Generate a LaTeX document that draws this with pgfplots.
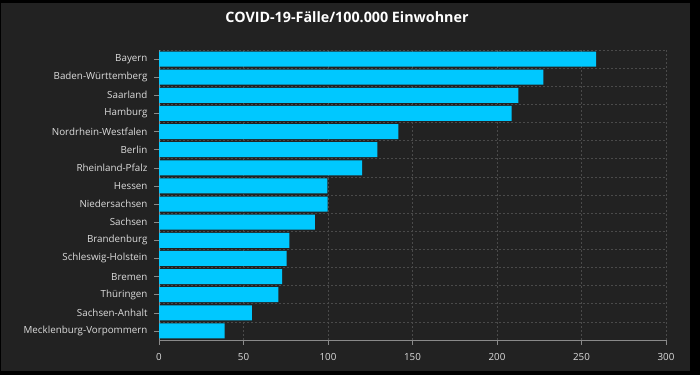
\documentclass[border=0pt]{standalone}
\usepackage{fontspec}
\setmainfont{Open Sans}
\usepackage{pgfplots}
\pgfplotsset{compat=1.18}
\definecolor{bg}{HTML}{222222}
\definecolor{barc}{HTML}{00C8FF}
\definecolor{gridc}{HTML}{4A4A4A}
\definecolor{axc}{HTML}{8A8A8A}
\definecolor{txt}{HTML}{DDDDDD}
\begin{document}
\begin{tikzpicture}[x=1pt,y=1pt]
\fill[black] (0,0) rectangle (700,375);
\fill[bg] (1,4) rectangle (690,372);
\node[text=white,font=\fontsize{14.3}{16}\selectfont\bfseries] at (347,358) {COVID-19-Fälle/100.000 Einwohner};
\begin{axis}[
  at={(159pt,35pt)}, anchor=south west,
  scale only axis, width=507pt, height=290pt,
  xbar, bar width=0.83,
  xmin=0, xmax=300, ymin=-0.5, ymax=15.5,
  y dir=reverse,
  ytick={0,...,15},
  yticklabels={Bayern,Baden-Württemberg,Saarland,Hamburg,Nordrhein-Westfalen,Berlin,Rheinland-Pfalz,Hessen,Niedersachsen,Sachsen,Brandenburg,Schleswig-Holstein,Bremen,Thüringen,Sachsen-Anhalt,Mecklenburg-Vorpommern},
  minor ytick={-0.5,0.5,...,15.5},
  xtick={0,50,...,300},
  axis x line*=bottom, axis y line*=left,
  axis line style={axc, line width=0.6pt, -},
  tick style={axc, line width=0.6pt},
  major tick length=5pt, minor tick length=0pt,
  tick align=outside,
  xmajorgrids, yminorgrids, ymajorgrids=false,
  major grid style={gridc, dash pattern=on 2pt off 2pt, line width=0.6pt},
  minor grid style={gridc, dash pattern=on 2pt off 2pt, line width=0.6pt},
  ticklabel style={text=txt, font=\fontsize{9.8}{11}\selectfont},
  xticklabel style={yshift=-5pt},
  yticklabel style={xshift=-3pt},
  /pgf/number format/assume math mode=true,
  clip=false,
]
\addplot[fill=barc, draw=none] coordinates {
(258.7,0) (227.4,1) (212.7,2) (208.6,3) (141.7,4) (129.2,5) (120.2,6) (99.7,7)
(99.8,8) (92.3,9) (77.1,10) (75.5,11) (72.8,12) (70.7,13) (55.0,14) (38.9,15)};
\end{axis}
\end{tikzpicture}
\end{document}
